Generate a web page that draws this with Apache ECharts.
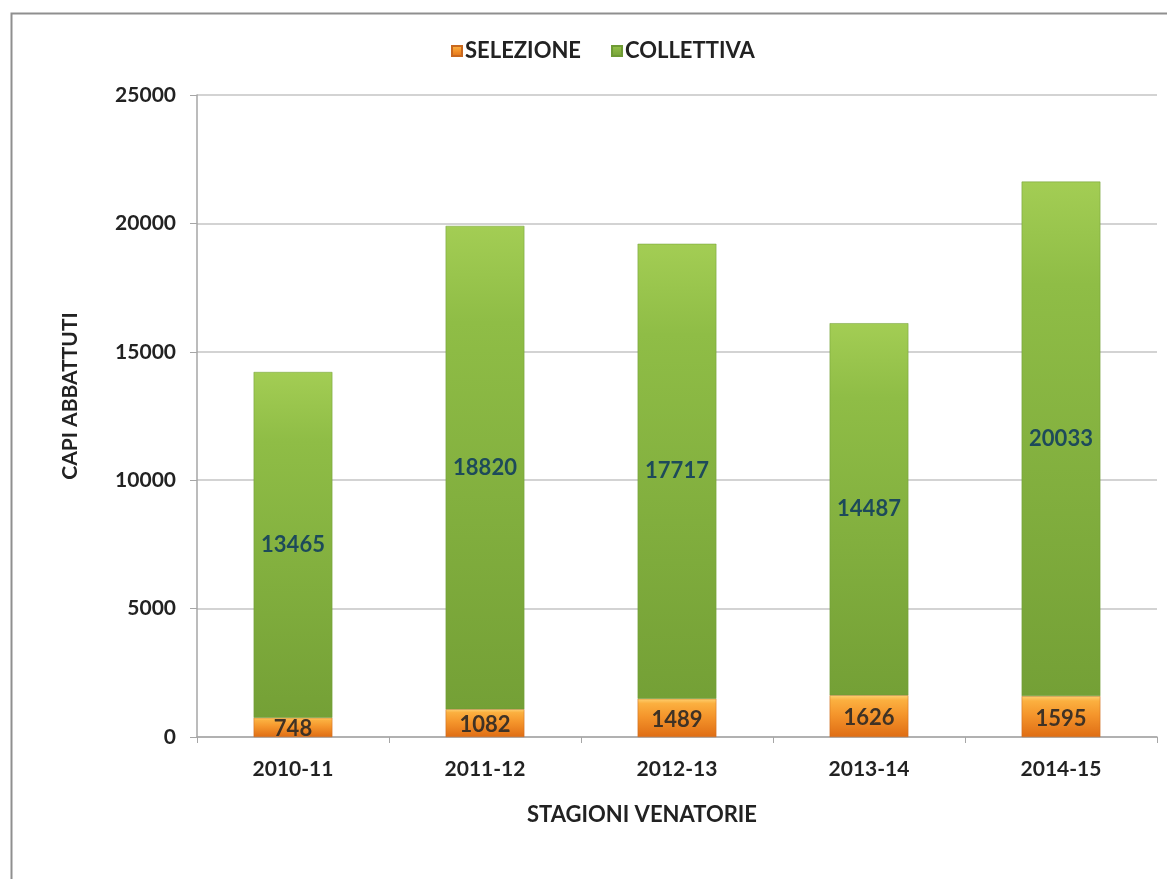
<!DOCTYPE html>
<html>
<head>
<meta charset="utf-8">
<script src="https://cdn.jsdelivr.net/npm/echarts@6/dist/echarts.min.js"></script>
<style>
html,body{margin:0;padding:0;background:#fff;}
#c{width:1167px;height:879px;}
</style>
</head>
<body>
<div id="c"></div>
<script>
const categories = ['2010-11','2011-12','2012-13','2013-14','2014-15'];
const selezione = [748, 1082, 1489, 1626, 1595];
const collettiva = [13465, 18820, 17717, 14487, 20033];
const yTicks = [0, 5000, 10000, 15000, 20000, 25000];

const FONT = 'Lato, "Open Sans", sans-serif';
const chart = echarts.init(document.getElementById('c'));
chart.setOption({
  animation: false,
  backgroundColor: '#fff',
  textStyle: {fontFamily: FONT},
  graphic: [{
    type: 'rect', left: 9, top: 11, silent: true,
    shape: {width: 1200, height: 900},
    style: {fill: 'none', stroke: '#8f8f8f', lineWidth: 2}
  }],
  legend: {
    top: 35, left: 446,
    itemWidth: 10, itemHeight: 10, itemGap: 30,
    icon: 'rect',
    textStyle: {fontFamily: FONT, fontWeight: 'bold', fontSize: 22, color: '#222', padding: [0,0,0,-2]},
    data: ['SELEZIONE', 'COLLETTIVA']
  },
  grid: {left: 197, right: 10, top: 95, bottom: 142},
  xAxis: {
    type: 'category', data: categories,
    name: 'STAGIONI VENATORIE', nameLocation: 'middle', nameGap: 67,
    nameTextStyle: {fontFamily: FONT, fontWeight: 'bold', fontSize: 22, color: '#222', padding: [0,70,0,0]},
    axisLine: {lineStyle: {color: '#a6a6a6', width: 1.5}},
    axisTick: {show: true, length: 6, lineStyle: {color: '#a6a6a6'}},
    axisLabel: {margin: 22, fontFamily: FONT, fontWeight: 'bold', fontSize: 21, color: '#222'}
  },
  yAxis: {
    type: 'value', min: yTicks[0], max: yTicks[yTicks.length-1], interval: 5000,
    name: 'CAPI ABBATTUTI', nameLocation: 'middle', nameGap: 116, nameRotate: 90,
    nameTextStyle: {fontFamily: FONT, fontWeight: 'bold', fontSize: 21, color: '#222', padding: [0,0,0,40]},
    axisLine: {show: true, lineStyle: {color: '#a6a6a6', width: 1.5}},
    axisTick: {show: true, length: 7, lineStyle: {color: '#a6a6a6'}},
    splitLine: {lineStyle: {color: '#c4c4c4', width: 1.5}},
    axisLabel: {margin: 21, fontFamily: FONT, fontWeight: 'bold', fontSize: 21, color: '#222',
      formatter: v => String(v)}
  },
  series: [{
    name: 'SELEZIONE', type: 'bar', stack: 't', barWidth: '41%',
    data: selezione,
    itemStyle: {
      color: new echarts.graphic.LinearGradient(0,0,0,1,[
        {offset:0,color:'#fdd070'},{offset:0.12,color:'#fbb040'},{offset:0.45,color:'#f5962c'},{offset:1,color:'#df6d14'}]),
      borderColor: '#c9681e', borderWidth: 0.5
    },
    label: {show: true, position: 'inside', fontFamily: FONT, fontWeight: 'bold', fontSize: 22, color: '#3f3225', offset:[0,2]}
  },{
    name: 'COLLETTIVA', type: 'bar', stack: 't', barWidth: '41%',
    data: collettiva,
    itemStyle: {
      color: new echarts.graphic.LinearGradient(0,0,0,1,[
        {offset:0,color:'#a3cd54'},{offset:0.2,color:'#8fbd46'},{offset:1,color:'#74a036'}]),
      borderColor: '#6e9a34', borderWidth: 0.5
    },
    label: {show: true, position: 'inside', fontFamily: FONT, fontWeight: 'bold', fontSize: 22, color: '#1d4a5a'}
  }]
});
</script>
</body>
</html>
